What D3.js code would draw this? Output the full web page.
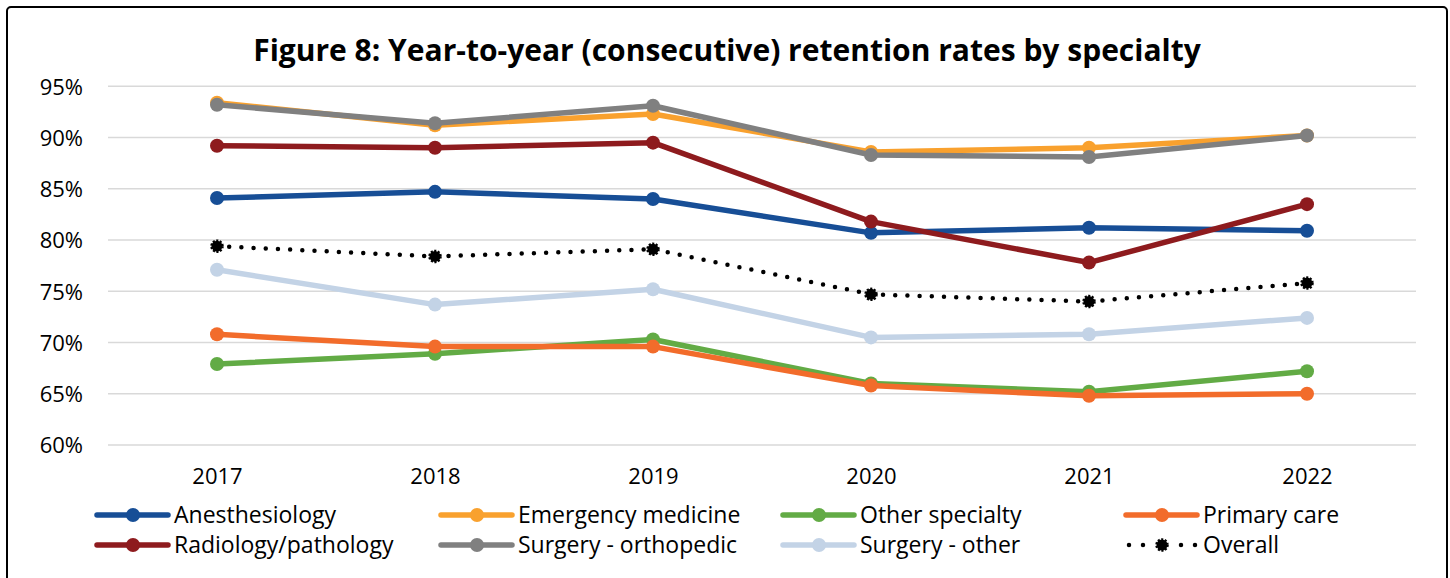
<!DOCTYPE html>
<html lang="en">
<head>
    <meta charset="UTF-8">
    <title>Figure 8</title>
    <script src="https://d3js.org/d3.v7.min.js"></script>
    <style>
        body { margin: 0; background: #fff; }
        text { font-family: "Open Sans", "Noto Sans", sans-serif; fill: #000; }
    </style>
</head>
<body>
<svg width="1450" height="578"></svg>
<script>
    // data
    var years = ['2017', '2018', '2019', '2020', '2021', '2022'];
    var yTicks = [60, 65, 70, 75, 80, 85, 90, 95];

    var anesthesiology = [84.1, 84.7, 84.0, 80.7, 81.2, 80.9];
    var emergency = [93.4, 91.2, 92.3, 88.6, 89.0, 90.2];
    var otherSpecialty = [67.9, 68.9, 70.3, 66.0, 65.2, 67.2];
    var primaryCare = [70.8, 69.6, 69.6, 65.8, 64.8, 65.0];
    var radiology = [89.2, 89.0, 89.5, 81.8, 77.8, 83.5];
    var orthopedic = [93.2, 91.4, 93.1, 88.3, 88.1, 90.2];
    var surgeryOther = [77.1, 73.7, 75.2, 70.5, 70.8, 72.4];
    var overall = [79.4, 78.4, 79.1, 74.7, 74.0, 75.8];

    var series = [
        {name: 'Anesthesiology', values: anesthesiology, color: '#174e96'},
        {name: 'Emergency medicine', values: emergency, color: '#f9a12e'},
        {name: 'Other specialty', values: otherSpecialty, color: '#62ab45'},
        {name: 'Primary care', values: primaryCare, color: '#f26c2b'},
        {name: 'Radiology/pathology', values: radiology, color: '#8e1b1e'},
        {name: 'Surgery - orthopedic', values: orthopedic, color: '#808080'},
        {name: 'Surgery - other', values: surgeryOther, color: '#c3d3e6'},
        {name: 'Overall', values: overall, color: '#000000', dotted: true}
    ];

    var svg = d3.select('svg');

    // border
    svg.append('rect')
        .attr('x', 7).attr('y', 7)
        .attr('width', 1440).attr('height', 590)
        .attr('rx', 4)
        .attr('fill', 'none')
        .attr('stroke', '#000')
        .attr('stroke-width', 2);

    // title
    var title = svg.append('text')
        .attr('x', 727)
        .attr('y', 61)
        .attr('text-anchor', 'middle')
        .attr('font-size', 30)
        .attr('font-weight', 'bold')
        .text('Figure 8: Year-to-year (consecutive) retention rates by specialty');
    var tw = title.node().getComputedTextLength();
    title.attr('font-size', 30 * 948 / tw);

    var x = d3.scalePoint().domain(years).range([108, 1416]).padding(0.5);
    var y = d3.scaleLinear().domain([60, 95]).range([445, 86.3]);

    // grid lines
    svg.append('g')
        .selectAll('line')
        .data(yTicks)
        .enter()
        .append('line')
        .attr('x1', 108).attr('x2', 1416)
        .attr('y1', function (d) { return y(d); })
        .attr('y2', function (d) { return y(d); })
        .attr('stroke', '#d9d9d9')
        .attr('stroke-width', 1.5);

    // y axis
    var yAxis = svg.append('g')
        .attr('transform', 'translate(108,0)')
        .call(d3.axisLeft(y).tickValues(yTicks).tickSize(0).tickPadding(25)
            .tickFormat(function (d) { return d + '%'; }));
    yAxis.select('.domain').remove();
    yAxis.selectAll('text')
        .attr('font-size', 22)
        .attr('font-family', '"Open Sans", sans-serif')
        .attr('fill', '#000')
        .attr('dy', '0.36em');

    // x axis
    var xAxis = svg.append('g')
        .attr('transform', 'translate(0,445)')
        .call(d3.axisBottom(x).tickSize(0).tickPadding(23));
    xAxis.select('.domain').remove();
    xAxis.selectAll('text')
        .attr('font-size', 22)
        .attr('font-family', '"Open Sans", sans-serif')
        .attr('fill', '#000');

    var line = d3.line()
        .x(function (d, i) { return x(years[i]); })
        .y(function (d) { return y(d); });

    var g = svg.append('g');
    series.forEach(function (s) {
        var sg = g.append('g');
        sg.append('path')
            .attr('d', line(s.values))
            .attr('fill', 'none')
            .attr('stroke', s.color)
            .attr('stroke-width', s.dotted ? 4.5 : 5.5)
            .attr('stroke-linecap', s.dotted ? 'round' : 'butt')
            .attr('stroke-linejoin', 'round')
            .attr('stroke-dasharray', s.dotted ? '0 12.2' : null);
        sg.selectAll('circle')
            .data(s.values)
            .enter()
            .append('circle')
            .attr('cx', function (d, i) { return x(years[i]); })
            .attr('cy', function (d) { return y(d); })
            .attr('r', s.dotted ? 5.5 : 7)
            .attr('fill', s.color)
            .attr('stroke', s.dotted ? '#000' : 'none')
            .attr('stroke-width', 2.5)
            .attr('stroke-dasharray', s.dotted ? '2 1.5' : null);
    });

    // legend
    var legCols = [97, 441, 783, 1126];
    var legRows = [515, 545];
    var legend = svg.append('g')
        .selectAll('g')
        .data(series)
        .enter()
        .append('g')
        .attr('transform', function (d, i) {
            return 'translate(' + legCols[i % 4] + ',' + legRows[Math.floor(i / 4)] + ')';
        });
    legend.append('line')
        .attr('x1', function (d) { return d.dotted ? 3 : 0; })
        .attr('x2', function (d) { return d.dotted ? 70 : 71; })
        .attr('stroke', function (d) { return d.color; })
        .attr('stroke-width', function (d) { return d.dotted ? 4.5 : 5.5; })
        .attr('stroke-linecap', 'round')
        .attr('stroke-dasharray', function (d) { return d.dotted ? '0 14 0 38 0 14 0 100' : null; });
    legend.append('circle')
        .attr('cx', 36)
        .attr('r', function (d) { return d.dotted ? 5.5 : 7; })
        .attr('fill', function (d) { return d.color; })
        .attr('stroke', function (d) { return d.dotted ? '#000' : 'none'; })
        .attr('stroke-width', 2.5)
        .attr('stroke-dasharray', function (d) { return d.dotted ? '2 1.5' : null; });
    legend.append('text')
        .attr('x', 77)
        .attr('dy', '0.35em')
        .attr('font-size', 23)
        .text(function (d) { return d.name; });
</script>
</body>
</html>
